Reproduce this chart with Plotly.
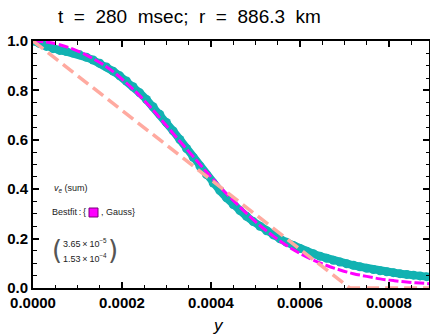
import plotly.graph_objects as go

# ---- data ----
teal_x = [0.000000, 0.000015, 0.000030, 0.000045, 0.000060, 0.000075, 0.000090, 0.000105,
          0.000120, 0.000135, 0.000150, 0.000165, 0.000180, 0.000195, 0.000210, 0.000225,
          0.000240, 0.000255, 0.000270, 0.000285, 0.000300, 0.000315, 0.000330, 0.000345,
          0.000360, 0.000375, 0.000390, 0.000405, 0.000420, 0.000435, 0.000450, 0.000465,
          0.000480, 0.000495, 0.000510, 0.000525, 0.000540, 0.000555, 0.000570, 0.000585,
          0.000600, 0.000615, 0.000630, 0.000645, 0.000660, 0.000675, 0.000690, 0.000705,
          0.000720, 0.000735, 0.000750, 0.000765, 0.000780, 0.000795, 0.000810, 0.000825,
          0.000840, 0.000855, 0.000870, 0.000885]
teal_y = [1.000, 0.990, 0.978, 0.969, 0.962, 0.957, 0.951, 0.944,
          0.934, 0.923, 0.910, 0.895, 0.878, 0.859, 0.838, 0.815,
          0.790, 0.763, 0.734, 0.703, 0.670, 0.636, 0.601, 0.565,
          0.529, 0.494, 0.459, 0.425, 0.394, 0.365, 0.338, 0.313,
          0.290, 0.269, 0.250, 0.232, 0.215, 0.199, 0.185, 0.172,
          0.160, 0.149, 0.139, 0.129, 0.120, 0.112, 0.105, 0.098,
          0.092, 0.086, 0.080, 0.075, 0.070, 0.066, 0.062, 0.058,
          0.055, 0.052, 0.049, 0.046]

fit_x = [0.00000, 0.00003, 0.00006, 0.00009, 0.00012, 0.00015, 0.00018, 0.00021,
         0.00024, 0.00027, 0.00030, 0.00033, 0.00036, 0.00039, 0.00042, 0.00045,
         0.00048, 0.00051, 0.00054, 0.00057, 0.00060, 0.00063, 0.00066, 0.00069,
         0.00072, 0.00075, 0.00078, 0.00081, 0.00084, 0.00087, 0.00090]
fit_y = [1.000, 0.996, 0.985, 0.967, 0.943, 0.913, 0.876, 0.830,
         0.778, 0.720, 0.657, 0.594, 0.532, 0.470, 0.410, 0.355,
         0.302, 0.253, 0.210, 0.172, 0.140, 0.113, 0.091, 0.073,
         0.058, 0.047, 0.037, 0.030, 0.024, 0.020, 0.016]

lin_x = [0.0, 0.000712, 0.00090]
lin_y = [1.0, 0.0, 0.0]

x_tick_vals = [0.0, 0.0002, 0.0004, 0.0006, 0.0008]
x_tick_text = ["0.0000", "0.0002", "0.0004", "0.0006", "0.0008"]
y_tick_vals = [0.0, 0.2, 0.4, 0.6, 0.8, 1.0]
y_tick_text = ["0.0", "0.2", "0.4", "0.6", "0.8", "1.0"]

title_text = "t\u00a0\u00a0=\u00a0\u00a0280\u00a0\u00a0msec;\u00a0\u00a0r\u00a0\u00a0=\u00a0\u00a0886.3\u00a0\u00a0km"

TEAL = "#12b2b2"
MAGENTA = "#ff00ff"
SALMON = "#ffaaa0"

fig = go.Figure()
fig.add_trace(go.Scatter(x=teal_x, y=teal_y, mode="lines+markers",
                         line=dict(color=TEAL, width=8),
                         marker=dict(size=9, color=TEAL, line=dict(width=0)),
                         showlegend=False))
fig.add_trace(go.Scatter(x=fit_x, y=fit_y, mode="lines", line_shape="spline",
                         line=dict(color=MAGENTA, width=3, dash="10px,3px"),
                         showlegend=False))
fig.add_trace(go.Scatter(x=lin_x, y=lin_y, mode="lines",
                         line=dict(color=SALMON, width=3.5, dash="13px,6px"),
                         showlegend=False))

axis_font = dict(family="Liberation Sans, Arial, sans-serif", size=15, color="black", weight="bold")

fig.update_layout(
    width=430, height=336, autosize=False,
    margin=dict(l=33, r=1, t=41, b=48, pad=0, autoexpand=False),
    plot_bgcolor="white", paper_bgcolor="white",
    xaxis=dict(range=[0, 0.00089], tickmode="array", tickvals=x_tick_vals, ticktext=x_tick_text,
               ticks="inside", ticklen=6, tickwidth=1.5, tickcolor="black", automargin=False,
               showline=True, linewidth=2, linecolor="black", mirror="ticks",
               showgrid=False, zeroline=False, tickfont=axis_font,
               minor=dict(tickmode="linear", tick0=0, dtick=0.00005, ticks="inside",
                          ticklen=3.5, tickwidth=1, tickcolor="black", showgrid=False)),
    yaxis=dict(range=[0, 1.0], tickmode="array", tickvals=y_tick_vals, ticktext=y_tick_text,
               ticks="inside", ticklen=6, tickwidth=1.5, tickcolor="black", automargin=False,
               showline=True, linewidth=2, linecolor="black", mirror="ticks",
               showgrid=False, zeroline=False, tickfont=axis_font,
               minor=dict(tickmode="linear", tick0=0, dtick=0.05, ticks="inside",
                          ticklen=3.5, tickwidth=1, tickcolor="black", showgrid=False)),
)

small = dict(family="Liberation Sans, Arial, sans-serif", size=9, color="#222222")
paren = dict(family="DejaVu Sans, Liberation Sans, sans-serif", size=26, color="#555555")

fig.add_annotation(x=(189 - 33) / 396, y=(288 - 16) / 247, xref="paper", yref="paper",
                   text=title_text, showarrow=False, xanchor="center", yanchor="middle",
                   font=dict(family="Liberation Sans, Arial, sans-serif", size=19, color="black"))

fig.add_annotation(x=(218 - 33) / 396, y=(288 - 325) / 247, xref="paper", yref="paper",
                   text="<i>y</i>", showarrow=False, xanchor="center", yanchor="middle",
                   font=dict(family="Liberation Sans, Arial, sans-serif", size=17, color="black"))

fig.add_annotation(x=(52 - 33) / 396, y=(288 - 188) / 247, xref="paper", yref="paper",
                   text="<i>v</i><sub><i>e</i></sub> (sum)", showarrow=False,
                   xanchor="left", yanchor="middle", font=small)
fig.add_annotation(x=(88 - 33) / 396, y=(288 - 212) / 247, xref="paper", yref="paper",
                   text="Bestfit\u2009:\u2009{", showarrow=False,
                   xanchor="right", yanchor="middle", font=small)
fig.add_annotation(x=(99 - 33) / 396, y=(288 - 212) / 247, xref="paper", yref="paper",
                   text=", Gauss}", showarrow=False,
                   xanchor="left", yanchor="middle", font=small)
fig.add_shape(type="rect", xref="paper", yref="paper",
              x0=(89 - 33) / 396, x1=(98 - 33) / 396, y0=(288 - 217) / 247, y1=(288 - 208) / 247,
              fillcolor=MAGENTA, line=dict(color="#7a007a", width=1))

fig.add_annotation(x=(50 - 33) / 396, y=(288 - 250) / 247, xref="paper", yref="paper",
                   text="(", showarrow=False, xanchor="left", yanchor="middle", font=paren)
fig.add_annotation(x=(120 - 33) / 396, y=(288 - 250) / 247, xref="paper", yref="paper",
                   text=")", showarrow=False, xanchor="right", yanchor="middle", font=paren)
fig.add_annotation(x=(85 - 33) / 396, y=(288 - 243) / 247, xref="paper", yref="paper",
                   text="3.65\u2009\u00d7\u200910<sup>\u22125</sup>", showarrow=False,
                   xanchor="center", yanchor="middle", font=small)
fig.add_annotation(x=(85 - 33) / 396, y=(288 - 258) / 247, xref="paper", yref="paper",
                   text="1.53\u2009\u00d7\u200910<sup>\u22124</sup>", showarrow=False,
                   xanchor="center", yanchor="middle", font=small)

fig.write_html("out.html", config={"displayModeBar": False},
               post_script="document.body.style.margin='0';")
